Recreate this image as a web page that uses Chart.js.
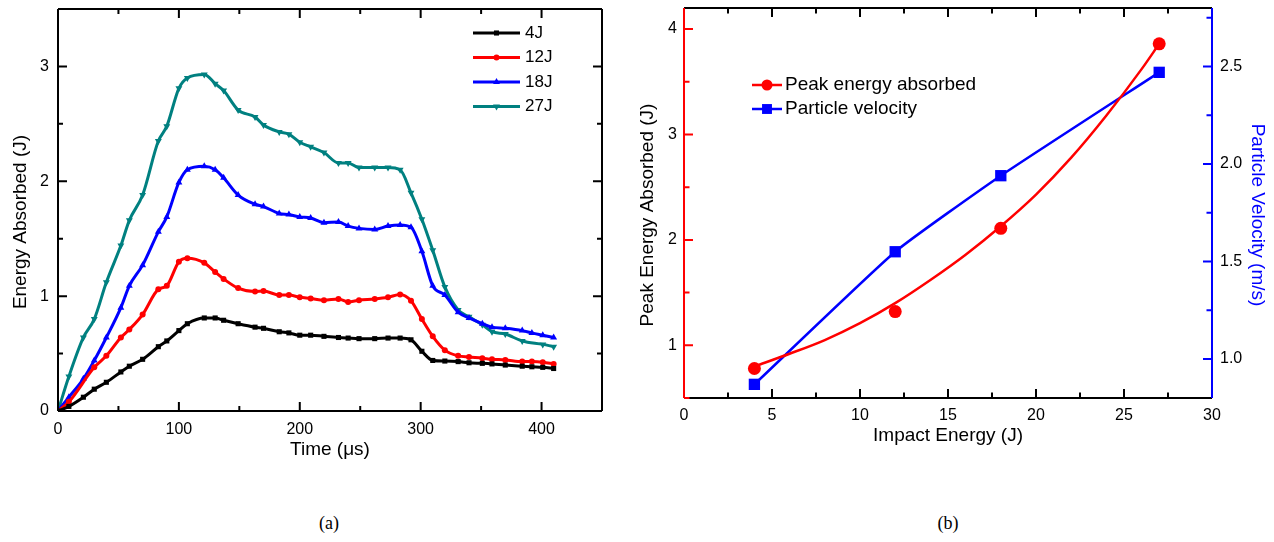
<!DOCTYPE html>
<html>
<head>
<meta charset="utf-8">
<script src="https://cdn.jsdelivr.net/npm/chart.js@4.4.1/dist/chart.umd.min.js"></script>
<style>
  body { margin: 0; background: #fff; width: 1274px; height: 542px; position: relative; overflow: hidden; }
  canvas { position: absolute; top: 0; }
  #energyChart { left: 0; }
  #impactChart { left: 625px; }
  .caption { position: absolute; top: 513px; font: 18px 'Liberation Serif', 'Times New Roman', serif; transform: translateX(-50%); }
</style>
</head>
<body>
<canvas id="energyChart" width="625" height="470"></canvas>
<canvas id="impactChart" width="649" height="470"></canvas>
<div class="caption" style="left:329px">(a)</div>
<div class="caption" style="left:948px">(b)</div>
<script>
Chart.defaults.font.family = "'Liberation Sans', Arial, sans-serif";
Chart.defaults.color = '#000';

// (a) energy absorbed over time, one curve per impact energy
const time = [0, 9, 21, 30, 40, 52, 59, 70, 83, 90, 100, 107, 121, 130, 137, 149, 163, 170, 183, 191,
  200, 209, 220, 232, 240, 249, 262, 273, 283, 292, 301, 310, 320, 331, 340, 351, 359, 370, 384, 392, 401, 410];
const e4J = [0, 0.04, 0.12, 0.19, 0.25, 0.34, 0.39, 0.45, 0.56, 0.61, 0.70, 0.76, 0.81, 0.81, 0.79, 0.76, 0.73, 0.72, 0.69, 0.68,
  0.66, 0.66, 0.65, 0.64, 0.635, 0.63, 0.63, 0.635, 0.635, 0.62, 0.52, 0.44, 0.435, 0.43, 0.42, 0.415, 0.41, 0.40, 0.39, 0.385, 0.38, 0.37];
const e12J = [0, 0.08, null, 0.38, 0.48, 0.64, 0.71, 0.84, 1.06, 1.09, 1.30, 1.33, 1.29, 1.21, 1.15, 1.07, 1.04, 1.045, 1.01, 1.01,
  0.99, 0.98, 0.965, 0.975, 0.95, 0.965, 0.975, 0.99, 1.015, 0.96, 0.80, 0.65, 0.53, 0.48, 0.47, 0.46, 0.45, 0.445, 0.43, 0.43, 0.425, 0.41];
const e18J = [0, 0.12, 0.28, 0.44, 0.64, 0.90, 1.09, 1.27, 1.56, 1.69, 1.99, 2.10, 2.13, 2.10, 2.03, 1.88, 1.80, 1.78, 1.72, 1.71,
  1.69, 1.68, 1.64, 1.645, 1.61, 1.59, 1.58, 1.61, 1.62, 1.60, 1.39, 1.09, 1.01, 0.86, 0.81, 0.76, 0.73, 0.72, 0.70, 0.68, 0.66, 0.64];
const e27J = [0, 0.30, 0.64, 0.80, 1.12, 1.44, 1.66, 1.88, 2.35, 2.48, 2.81, 2.90, 2.93, 2.85, 2.79, 2.62, 2.56, 2.49, 2.43, 2.41,
  2.34, 2.30, 2.25, 2.16, 2.16, 2.12, 2.12, 2.12, 2.10, 1.90, 1.67, 1.40, 1.08, 0.88, 0.82, 0.75, 0.69, 0.67, 0.61, null, 0.58, 0.56];
const timeTicks = [0, 100, 200, 300, 400];
const energyTicks = [0, 1, 2, 3];

// (b) peak energy and particle velocity against impact energy
const impactEnergy = [4, 12, 18, 27];
const peakEnergy = [0.78, 1.32, 2.11, 3.86];
const particleVelocity = [0.87, 1.55, 1.94, 2.47];
const fitImpact = [4, 6, 8, 10, 12, 14, 16, 18, 20, 22, 24, 26, 27];
const fitPeak = [0.80, 0.92, 1.05, 1.21, 1.40, 1.62, 1.86, 2.13, 2.43, 2.78, 3.18, 3.62, 3.86];
const impactTicks = [0, 5, 10, 15, 20, 25, 30];
const peakTicks = [1, 2, 3, 4];
const velocityTicks = [1.0, 1.5, 2.0, 2.5];

function points(xs, ys) {
  return xs.map((x, i) => ({ x, y: ys[i] })).filter(p => p.y !== null);
}

function fixedTicks(values) {
  return scale => { scale.ticks = values.map(v => ({ value: v })); };
}

// pin axis sizes so the plot box lands where it should, no label overflow padding
function boxWidth(w) {
  return s => { s.width = w; s.paddingTop = 0; s.paddingBottom = 0; };
}
function boxHeight(h) {
  return s => { s.height = h; s.paddingLeft = 0; s.paddingRight = 0; };
}

// box around the plot with inward major/minor ticks on every side
const framePlugin = {
  id: 'frame',
  afterDatasetsDraw(chart, args, opts) {
    const { ctx, chartArea: a } = chart;
    ctx.save();
    ctx.lineWidth = opts.lineWidth;
    for (const side of opts.sides) {
      const scale = chart.scales[side.scale];
      ctx.strokeStyle = side.color;
      ctx.beginPath();
      if (side.pos === 'left') { ctx.moveTo(a.left, a.top); ctx.lineTo(a.left, a.bottom); }
      if (side.pos === 'right') { ctx.moveTo(a.right, a.top); ctx.lineTo(a.right, a.bottom); }
      if (side.pos === 'top') { ctx.moveTo(a.left, a.top); ctx.lineTo(a.right, a.top); }
      if (side.pos === 'bottom') { ctx.moveTo(a.left, a.bottom); ctx.lineTo(a.right, a.bottom); }
      const first = Math.ceil(scale.min / side.minor - 1e-6);
      const last = Math.floor(scale.max / side.minor + 1e-6);
      for (let i = first; i <= last; i++) {
        const v = i * side.minor;
        const major = Math.abs(v / side.major - Math.round(v / side.major)) < 1e-6;
        const len = major ? opts.majorLength : opts.minorLength;
        const p = scale.getPixelForValue(v);
        if (side.pos === 'left') { ctx.moveTo(a.left, p); ctx.lineTo(a.left + len, p); }
        if (side.pos === 'right') { ctx.moveTo(a.right, p); ctx.lineTo(a.right - len, p); }
        if (side.pos === 'top') { ctx.moveTo(p, a.top); ctx.lineTo(p, a.top + len); }
        if (side.pos === 'bottom') { ctx.moveTo(p, a.bottom); ctx.lineTo(p, a.bottom - len); }
      }
      ctx.stroke();
    }
    ctx.restore();
  }
};

// legend entries drawn as a short line with the marker in the middle
const lineLegend = {
  id: 'lineLegend',
  afterDraw(chart, args, opts) {
    const { ctx } = chart;
    ctx.save();
    ctx.font = opts.font;
    ctx.textBaseline = 'middle';
    opts.items.forEach((item, row) => {
      const ds = chart.data.datasets[item.dataset];
      const y = opts.top + row * opts.rowHeight;
      ctx.strokeStyle = ds.borderColor;
      ctx.lineWidth = opts.lineWidth;
      ctx.beginPath();
      ctx.moveTo(opts.left, y);
      ctx.lineTo(opts.left + opts.lineLength, y);
      ctx.stroke();
      ctx.fillStyle = ds.pointBackgroundColor;
      Chart.helpers.drawPoint(ctx, {
        pointStyle: ds.pointStyle,
        radius: item.radius || ds.pointRadius,
        rotation: ds.pointRotation || 0,
        borderWidth: 0
      }, opts.left + opts.lineLength / 2, y);
      ctx.fillStyle = '#000';
      ctx.fillText(ds.label, opts.left + opts.lineLength + opts.gap, y);
    });
    ctx.restore();
  }
};

// vertical axis titles
const sideTitles = {
  id: 'sideTitles',
  afterDraw(chart, args, opts) {
    const { ctx, chartArea: a } = chart;
    ctx.save();
    ctx.font = opts.font;
    ctx.textAlign = 'center';
    ctx.textBaseline = 'middle';
    for (const t of opts.titles) {
      ctx.save();
      ctx.translate(t.x, (a.top + a.bottom) / 2 + opts.shift);
      ctx.rotate(t.rotation);
      ctx.fillStyle = t.color;
      ctx.fillText(t.text, 0, 0);
      ctx.restore();
    }
    ctx.restore();
  }
};

function curve(label, ys, color, style, radius, rotation) {
  return {
    label,
    data: points(time, ys),
    showLine: true,
    borderColor: color,
    borderWidth: 3,
    pointStyle: style,
    pointRadius: radius,
    pointRotation: rotation,
    pointBackgroundColor: color,
    pointBorderWidth: 0,
    cubicInterpolationMode: 'monotone'
  };
}

const hidden = { display: false, drawTicks: false };

new Chart(document.getElementById('energyChart'), {
  type: 'scatter',
  data: {
    datasets: [
      curve('4J', e4J, '#000000', 'rect', 3.6, 0),
      curve('12J', e12J, '#ff0000', 'circle', 3, 0),
      curve('18J', e18J, '#0000ff', 'triangle', 4, 0),
      curve('27J', e27J, '#008080', 'triangle', 4, 180)
    ]
  },
  options: {
    responsive: false,
    animation: false,
    layout: { padding: { top: 9, right: 23, left: 0, bottom: 0 } },
    scales: {
      x: {
        type: 'linear', min: 0, max: 450,
        afterBuildTicks: fixedTicks(timeTicks),
        afterFit: boxHeight(59),
        grid: hidden, border: { display: false },
        ticks: { padding: 9, font: { size: 16 } },
        title: { display: true, text: 'Time (\u03bcs)', font: { size: 19 }, padding: { top: 0, bottom: 8.6 } }
      },
      y: {
        min: 0, max: 3.5,
        afterBuildTicks: fixedTicks(energyTicks),
        afterFit: boxWidth(58),
        grid: hidden, border: { display: false },
        ticks: { padding: 9, font: { size: 16 } }
      }
    },
    plugins: {
      legend: { display: false },
      tooltip: { enabled: false },
      frame: {
        lineWidth: 2, majorLength: 9, minorLength: 5,
        sides: [
          { pos: 'bottom', scale: 'x', color: '#000', major: 100, minor: 50 },
          { pos: 'top', scale: 'x', color: '#000', major: 100, minor: 50 },
          { pos: 'left', scale: 'y', color: '#000', major: 1, minor: 0.5 },
          { pos: 'right', scale: 'y', color: '#000', major: 1, minor: 0.5 }
        ]
      },
      lineLegend: {
        font: "17px 'Liberation Sans', Arial, sans-serif",
        left: 473, top: 33, rowHeight: 24.5, lineLength: 47, gap: 5, lineWidth: 3,
        items: [{ dataset: 0 }, { dataset: 1 }, { dataset: 2 }, { dataset: 3 }]
      },
      sideTitles: {
        font: "19px 'Liberation Sans', Arial, sans-serif",
        shift: 12,
        titles: [{ text: 'Energy Absorbed (J)', x: 21, rotation: -Math.PI / 2, color: '#000' }]
      }
    }
  },
  plugins: [framePlugin, lineLegend, sideTitles]
});

new Chart(document.getElementById('impactChart'), {
  type: 'scatter',
  data: {
    datasets: [
      {
        label: 'Peak energy absorbed',
        data: points(impactEnergy, peakEnergy),
        yAxisID: 'y',
        showLine: false,
        borderColor: '#ff0000',
        pointStyle: 'circle',
        pointRadius: 6.5,
        pointBackgroundColor: '#ff0000',
        pointBorderWidth: 0
      },
      {
        label: 'Peak energy fit',
        data: points(fitImpact, fitPeak),
        yAxisID: 'y',
        showLine: true,
        borderColor: '#ff0000',
        borderWidth: 2.5,
        pointRadius: 0,
        cubicInterpolationMode: 'monotone'
      },
      {
        label: 'Particle velocity',
        data: points(impactEnergy, particleVelocity),
        yAxisID: 'y1',
        showLine: true,
        borderColor: '#0000ff',
        borderWidth: 2.5,
        tension: 0.15,
        pointStyle: 'rect',
        pointRadius: 8,
        pointBackgroundColor: '#0000ff',
        pointBorderWidth: 0
      }
    ]
  },
  options: {
    responsive: false,
    animation: false,
    layout: { padding: { top: 8, right: 0, left: 0, bottom: 0 } },
    scales: {
      x: {
        type: 'linear', min: 0, max: 30,
        afterBuildTicks: fixedTicks(impactTicks),
        afterFit: boxHeight(72),
        grid: hidden, border: { display: false },
        ticks: { padding: 8, font: { size: 16 } },
        title: { display: true, text: 'Impact Energy (J)', font: { size: 19 }, padding: { top: 0, bottom: 22.6 } }
      },
      y: {
        position: 'left', min: 0.5, max: 4.2,
        afterBuildTicks: fixedTicks(peakTicks),
        afterFit: boxWidth(59),
        grid: hidden, border: { display: false },
        ticks: { padding: 7, font: { size: 16 } }
      },
      y1: {
        position: 'right', min: 0.8, max: 2.8,
        afterBuildTicks: fixedTicks(velocityTicks),
        afterFit: boxWidth(62),
        grid: hidden, border: { display: false },
        ticks: { padding: 8, font: { size: 16 }, callback: v => v.toFixed(1) }
      }
    },
    plugins: {
      legend: { display: false },
      tooltip: { enabled: false },
      frame: {
        lineWidth: 2, majorLength: 9, minorLength: 5.5,
        sides: [
          { pos: 'bottom', scale: 'x', color: '#000', major: 5, minor: 2.5 },
          { pos: 'top', scale: 'x', color: '#000', major: 5, minor: 2.5 },
          { pos: 'left', scale: 'y', color: '#ff0000', major: 1, minor: 0.5 },
          { pos: 'right', scale: 'y1', color: '#0000ff', major: 0.5, minor: 0.25 }
        ]
      },
      lineLegend: {
        font: "19px 'Liberation Sans', Arial, sans-serif",
        left: 127, top: 85, rowHeight: 24, lineLength: 30, gap: 3, lineWidth: 2.5,
        items: [{ dataset: 0, radius: 5.5 }, { dataset: 2, radius: 7 }]
      },
      sideTitles: {
        font: "19px 'Liberation Sans', Arial, sans-serif",
        shift: 12,
        titles: [
          { text: 'Peak Energy Absorbed (J)', x: 23, rotation: -Math.PI / 2, color: '#000' },
          { text: 'Particle Velocity (m/s)', x: 632, rotation: Math.PI / 2, color: '#0000ff' }
        ]
      }
    }
  },
  plugins: [framePlugin, lineLegend, sideTitles]
});
</script>
</body>
</html>
